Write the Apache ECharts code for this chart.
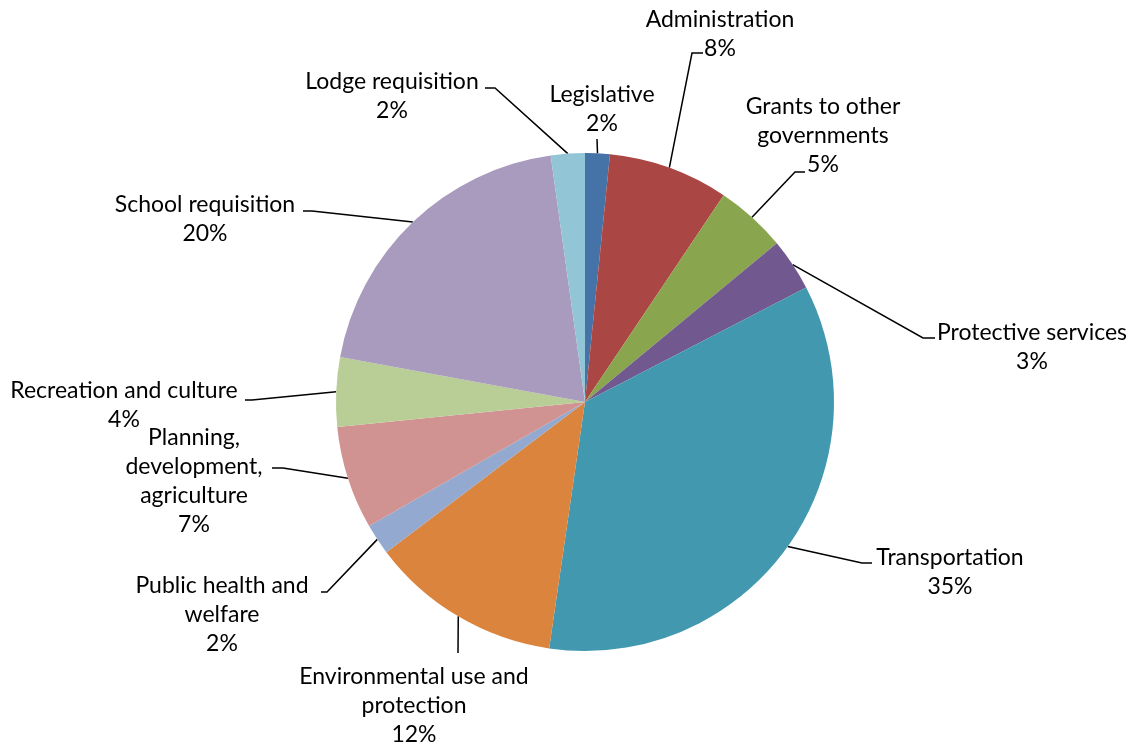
<!DOCTYPE html>
<html>
<head>
<meta charset="utf-8">
<script src="https://cdn.jsdelivr.net/npm/echarts/dist/echarts.min.js"></script>
<style>
  html, body { margin: 0; padding: 0; background: #ffffff; }
  #chart { width: 1133px; height: 749px; }
</style>
</head>
<body>
<div id="chart"></div>
<script>
// ---- Data ----
const categories = [
  'Legislative',
  'Administration',
  'Grants to other\ngovernments',
  'Protective services',
  'Transportation',
  'Environmental use and\nprotection',
  'Public health and\nwelfare',
  'Planning,\ndevelopment,\nagriculture',
  'Recreation and culture',
  'School requisition',
  'Lodge requisition'
];
const shares = [1.6, 7.8, 4.6, 3.4, 34.9, 12.4, 2.0, 6.7, 4.5, 19.9, 2.2];

// ---- Styling / layout ----
const colors = ['#4572A7', '#AA4643', '#89A54E', '#71588F', '#4198AF', '#DB843D',
                '#93A9CF', '#D19392', '#B9CD96', '#A99BBD', '#92C5D6'];
// label block centres (px)
const labelCenters = [
  [602, 109], [720, 34], [823, 136], [1032, 347], [950, 572], [414, 706],
  [222, 615], [194, 481], [124, 405], [205, 219], [392, 96]
];
// leader line: bend point and end point near the label (px)
const leaderBends = [
  [597, 139, 597, 139], [692, 53, 703, 53], [795, 172, 805, 172], [923, 338, 935, 338],
  [862, 563, 872, 563], [458, 653, 458, 653], [327, 592, 321, 592], [283, 468, 272, 468],
  [252, 400, 245, 400], [312, 211, 303, 211], [495, 88, 485, 88]
];

const chart = echarts.init(document.getElementById('chart'), null, { renderer: 'canvas' });
const pieData = categories.map((n, i) => ({ name: n, value: shares[i], itemStyle: { color: colors[i] } }));

chart.setOption({
  animation: false,
  backgroundColor: '#ffffff',
  series: [{
    type: 'pie',
    center: [585, 402],
    radius: 249,
    startAngle: 90,
    clockwise: true,
    avoidLabelOverlap: false,
    percentPrecision: 0,
    emphasis: { disabled: true },
    itemStyle: { borderWidth: 0 },
    label: {
      show: true,
      position: 'outside',
      formatter: '{b}\n{d}%',
      color: '#000000',
      fontFamily: 'Lato',
      fontSize: 23,
      lineHeight: 29,
      align: 'center'
    },
    labelLine: {
      show: true,
      length: 20,
      length2: 10,
      smooth: false,
      lineStyle: { color: '#000000', width: 1.5 }
    },
    labelLayout: function (params) {
      const i = params.dataIndex;
      const c = labelCenters[i];
      const b = leaderBends[i];
      const out = { x: c[0], y: c[1], align: 'center', verticalAlign: 'middle' };
      const pts = params.labelLinePoints;
      if (pts && pts.length) {
        const a = pts[0];
        out.labelLinePoints = [[a[0], a[1]], [b[0], b[1]], [b[2], b[3]]];
      }
      return out;
    },
    data: pieData
  }]
});
</script>
</body>
</html>
